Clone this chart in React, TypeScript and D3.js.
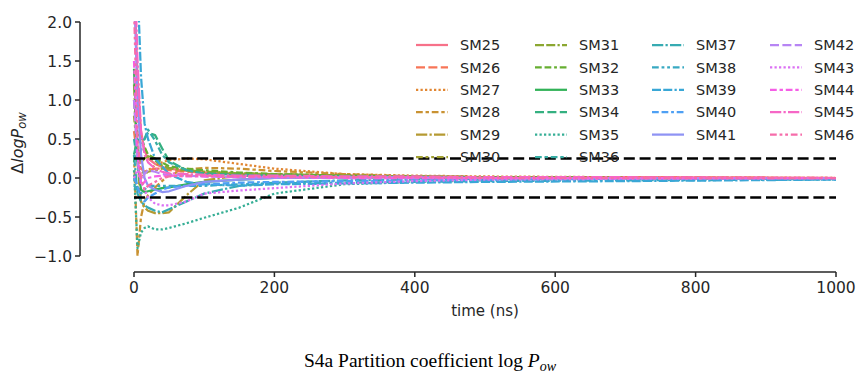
import React from 'react';
import * as d3 from 'd3';

// ---------- data ----------
const times = [0, 5, 10, 15, 20, 30, 40, 50, 75, 100, 150, 200, 300, 400, 500, 700, 1000];
const seriesNames = ['SM25','SM26','SM27','SM28','SM29','SM30','SM31','SM32','SM33','SM34','SM35','SM36','SM37','SM38','SM39','SM40','SM41','SM42','SM43','SM44','SM45','SM46'];
const sm25 = [2.6, 1.3, 0.6, 0.35, 0.25, 0.18, 0.14, 0.12, 0.09, 0.07, 0.05, 0.04, 0.03, 0.02, 0.01, 0.01, 0.0];
const sm26 = [0.6, 0.25, 0.12, 0.08, 0.1, 0.12, 0.12, 0.1, 0.08, 0.07, 0.05, 0.04, 0.03, 0.02, 0.01, 0.01, 0.0];
const sm27 = [0.0, -0.12, 0.0, 0.05, 0.1, 0.16, 0.2, 0.23, 0.25, 0.24, 0.18, 0.12, 0.05, 0.03, 0.02, 0.01, 0.0];
const sm28 = [0.3, -1.0, -0.5, -0.3, -0.22, -0.12, -0.04, 0.04, 0.11, 0.13, 0.12, 0.09, 0.05, 0.02, 0.01, 0.0, 0.0];
const sm29 = [1.2, 0.2, -0.3, -0.38, -0.42, -0.45, -0.45, -0.44, -0.22, -0.03, 0.03, 0.03, 0.02, 0.01, 0.01, 0.0, 0.0];
const sm30 = [0.8, 0.3, 0.1, 0.05, 0.08, 0.1, 0.12, 0.12, 0.1, 0.08, 0.06, 0.05, 0.03, 0.02, 0.01, 0.0, 0.0];
const sm31 = [1.0, 0.4, 0.2, 0.25, 0.28, 0.22, 0.16, 0.13, 0.1, 0.08, 0.06, 0.05, 0.03, 0.02, 0.01, 0.0, 0.0];
const sm32 = [0.2, 0.6, 0.5, 0.4, 0.3, 0.25, 0.2, 0.15, 0.12, 0.1, 0.07, 0.05, 0.03, 0.02, 0.01, 0.0, 0.0];
const sm33 = [1.4, 0.2, -0.15, -0.18, -0.17, -0.15, -0.13, -0.12, -0.08, -0.05, -0.02, 0.0, 0.01, 0.01, 0.0, 0.0, 0.0];
const sm34 = [0.3, 0.5, 0.45, 0.5, 0.58, 0.55, 0.38, 0.22, 0.1, 0.06, 0.04, 0.03, 0.02, 0.01, 0.0, 0.0, 0.0];
const sm35 = [0.1, -0.9, -0.7, -0.64, -0.62, -0.66, -0.66, -0.64, -0.58, -0.51, -0.38, -0.2, -0.08, -0.05, -0.03, -0.01, 0.0];
const sm36 = [0.5, 0.2, 0.35, 0.5, 0.62, 0.48, 0.3, 0.2, 0.1, 0.05, 0.03, 0.02, 0.01, 0.0, 0.0, 0.0, 0.0];
const sm37 = [0.3, -0.2, -0.3, -0.35, -0.38, -0.42, -0.44, -0.4, -0.3, -0.2, -0.1, -0.06, -0.03, -0.02, -0.01, 0.0, 0.0];
const sm38 = [-0.1, -0.15, -0.2, -0.15, -0.1, -0.1, -0.1, -0.1, -0.1, -0.1, -0.08, -0.07, -0.06, -0.05, -0.04, -0.03, -0.02];
const sm39 = [3.0, 2.5, 1.3, 0.7, 0.5, 0.25, 0.15, 0.05, -0.05, -0.08, -0.1, -0.08, -0.07, -0.06, -0.05, -0.04, -0.02];
const sm40 = [0.0, -0.1, -0.25, -0.3, -0.25, -0.2, -0.15, -0.12, -0.1, -0.08, -0.06, -0.05, -0.04, -0.03, -0.02, -0.01, 0.0];
const sm41 = [2.5, 1.0, 0.3, 0.0, -0.1, -0.15, -0.18, -0.17, -0.1, -0.05, -0.02, 0.0, 0.01, 0.01, 0.0, 0.0, 0.0];
const sm42 = [1.0, 0.2, -0.05, 0.05, 0.1, 0.08, 0.05, 0.04, 0.03, 0.02, 0.01, 0.01, 0.0, 0.0, 0.0, 0.0, 0.0];
const sm43 = [0.0, 0.1, -0.05, -0.15, -0.25, -0.33, -0.35, -0.35, -0.3, -0.2, -0.16, -0.13, -0.07, -0.04, -0.02, -0.01, 0.0];
const sm44 = [1.5, 0.3, -0.1, -0.05, 0.0, 0.02, 0.03, 0.03, 0.02, 0.02, 0.01, 0.01, 0.0, 0.0, 0.0, 0.0, 0.0];
const sm45 = [3.0, 1.5, 0.6, 0.3, 0.2, 0.12, 0.08, 0.06, 0.05, 0.04, 0.03, 0.03, 0.02, 0.02, 0.01, 0.01, 0.0];
const sm46 = [2.2, 0.5, 0.0, -0.15, -0.1, -0.05, 0.0, 0.02, 0.03, 0.03, 0.02, 0.02, 0.01, 0.01, 0.0, 0.0, 0.0];
const seriesValues = [sm25, sm26, sm27, sm28, sm29, sm30, sm31, sm32, sm33, sm34, sm35, sm36, sm37, sm38, sm39, sm40, sm41, sm42, sm43, sm44, sm45, sm46];

const xTicks = [0, 200, 400, 600, 800, 1000];
const yTicks = [-1.0, -0.5, 0.0, 0.5, 1.0, 1.5, 2.0];
const thresholds = [0.25, -0.25];

// ---------- style helpers ----------
const M = [[3.2406, -1.5372, -0.4986], [-0.9689, 1.8758, 0.0415], [0.0557, -0.2040, 1.0570]];
function maxChroma(L: number, H: number) {
  const hrad = (H / 360) * 2 * Math.PI;
  const sinH = Math.sin(hrad), cosH = Math.cos(hrad);
  const sub1 = Math.pow(L + 16, 3) / 1560896.0;
  const sub2 = sub1 > 0.008856 ? sub1 : L / 903.3;
  let result = Infinity;
  for (const [m1, m2, m3] of M) {
    const top = (0.99915 * m1 + 1.05122 * m2 + 1.1446 * m3) * sub2;
    const rbottom = 0.8633 * m3 - 0.17266 * m2;
    const lbottom = 0.12949 * m3 - 0.38848 * m1;
    const bottom = (rbottom * sinH + lbottom * cosH) * sub2;
    for (const t of [0, 1]) {
      const C = (L * (top - 1.05122 * t)) / (bottom + 0.17266 * sinH * t);
      if (C > 0 && C < result) result = C;
    }
  }
  return result;
}
function huslToRgb(H: number, S: number, L: number) {
  const C = (maxChroma(L, H) / 100) * S;
  const hrad = (H / 360) * 2 * Math.PI;
  const U = Math.cos(hrad) * C, V = Math.sin(hrad) * C;
  const t = (L + 16) / 116;
  const varY = t * t * t > 0.008856 ? t * t * t : (116 * t - 16) / 903.3;
  const varU = U / (13 * L) + 0.19784;
  const varV = V / (13 * L) + 0.46834;
  const Y = varY;
  const X = -(9 * Y * varU) / ((varU - 4) * varV - varU * varV);
  const Z = (9 * Y - 15 * varV * Y - varV * X) / (3 * varV);
  const f = (c: number) => (c <= 0.0031308 ? 12.92 * c : 1.055 * Math.pow(c, 1 / 2.4) - 0.055);
  const rgb = M.map(r => f(r[0] * X + r[1] * Y + r[2] * Z));
  return d3.rgb(...(rgb.map(c => Math.max(0, Math.min(1, c)) * 255) as [number, number, number])).formatHex();
}
const palette = seriesNames.map((_, i) => huslToRgb(((i / seriesNames.length + 0.01) % 1) * 359, 89.1, 64.35));

const LW = 2.25;
const dashUnits: number[][] = [[], [4, 1.5], [1, 1], [3, 1.25, 1.5, 1.25], [5, 1, 1, 1], [3, 1.25, 1.25, 1.25, 1.25, 1.25], [4, 1, 4, 1, 1, 1], [3, 1.25, 3, 1.25, 1.25, 1.25]];
const dashFor = (i: number) => {
  const d = dashUnits[i % 8];
  return d.length ? d.map(v => (v * LW).toFixed(2)).join(',') : undefined;
};

const INK = '#262626';

export default function App() {
  const W = 857, H = 372;
  const x = d3.scaleLinear().domain([0, 1000]).range([134, 836]);
  const y = d3.scaleLinear().domain([-1, 2]).range([256, 22]);
  const line = d3.line<number>().x((_, i) => x(times[i])).y(v => y(v));
  const spineX = 80;
  const spineY = 272;
  const tickFont = 15.5;

  const colSizes = [6, 6, 5, 5];
  const colX = [416, 535, 652, 770];
  const legendItems: { name: string; i: number; cx: number; cy: number }[] = [];
  let k = 0;
  colSizes.forEach((n, c) => {
    for (let r = 0; r < n; r++) {
      legendItems.push({ name: seriesNames[k], i: k, cx: colX[c], cy: 45 + r * 22.4 });
      k++;
    }
  });

  return (
    <svg width={W} height={H} style={{ position: 'absolute', left: 0, top: 0, background: '#fff' }} fontFamily="DejaVu Sans">
      <defs>
        <clipPath id="plotclip">
          <rect x={95} y={y(2.0) - 1} width={760} height={y(-1.1) - y(2.0) + 1} />
        </clipPath>
      </defs>
      <g clipPath="url(#plotclip)">
        {seriesValues.map((vals, i) => (
          <path key={seriesNames[i]} d={line(vals) || ''} fill="none" stroke={palette[i]} strokeWidth={LW} strokeDasharray={dashFor(i)} strokeLinejoin="round" />
        ))}
      </g>
      {thresholds.map(t => (
        <line key={t} x1={x(0)} x2={x(1000)} y1={y(t)} y2={y(t)} stroke="#000" strokeWidth={2.6} strokeDasharray="11,4.8" />
      ))}
      {/* y axis */}
      <line x1={spineX} x2={spineX} y1={y(2)} y2={y(-1)} stroke={INK} strokeWidth={1.5} />
      {yTicks.map(t => (
        <g key={t}>
          <line x1={spineX - 5} x2={spineX} y1={y(t)} y2={y(t)} stroke={INK} strokeWidth={1.5} />
          <text x={spineX - 8} y={y(t)} dy="0.36em" textAnchor="end" fontSize={tickFont} fill={INK}>
            {d3.format('.1f')(t).replace('-', '\u2212')}
          </text>
        </g>
      ))}
      {/* x axis */}
      <line x1={x(0)} x2={x(1000)} y1={spineY} y2={spineY} stroke={INK} strokeWidth={1.5} />
      {xTicks.map(t => (
        <g key={t}>
          <line x1={x(t)} x2={x(t)} y1={spineY} y2={spineY + 5} stroke={INK} strokeWidth={1.5} />
          <text x={x(t)} y={spineY + 21} textAnchor="middle" fontSize={tickFont} fill={INK}>{t}</text>
        </g>
      ))}
      <text x={(x(0) + x(1000)) / 2} y={316} textAnchor="middle" fontSize={15} fill={INK}>time (ns)</text>
      <text transform={`translate(23, ${(y(2) + y(-1)) / 2 + 4}) rotate(-90)`} textAnchor="middle" fontSize={16} fill={INK}>
        <tspan>Δ</tspan>
        <tspan fontStyle="italic">logP</tspan>
        <tspan fontStyle="italic" fontSize={11.5} dy={3}>ow</tspan>
      </text>
      {/* legend */}
      {legendItems.map(it => (
        <g key={it.name}>
          <line x1={it.cx} x2={it.cx + 32} y1={it.cy} y2={it.cy} stroke={palette[it.i]} strokeWidth={LW} strokeDasharray={dashFor(it.i)} />
          <text x={it.cx + 44} y={it.cy} dy="0.36em" fontSize={14.5} fill={INK}>{it.name}</text>
        </g>
      ))}
      {/* caption */}
      <text x={430} y={367} textAnchor="middle" fontFamily="Liberation Serif" fontSize={19.5} fill="#000">
        <tspan>S4a Partition coefficient log </tspan>
        <tspan fontStyle="italic">P</tspan>
        <tspan fontStyle="italic" fontSize={14} dy={3.5}>ow</tspan>
      </text>
    </svg>
  );
}
